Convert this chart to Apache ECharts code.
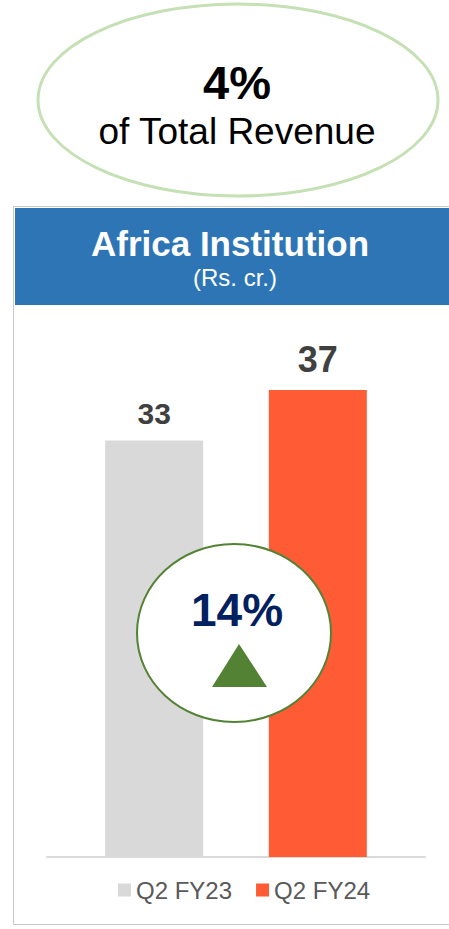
<!DOCTYPE html>
<html>
<head>
<meta charset="utf-8">
<script src="https://cdn.jsdelivr.net/npm/echarts@6/dist/echarts.min.js"></script>
<style>
  html, body { margin: 0; padding: 0; background: #fff; overflow: hidden; }
  #chart { width: 449px; height: 929px; }
</style>
</head>
<body>
<div id="chart"></div>
<script>
const categories = ['Africa Institution']
const seriesNames = ['Q2 FY23', 'Q2 FY24']
const q2fy23 = [33]
const q2fy24 = [37]
const shareText = '4%'
const shareLabel = 'of Total Revenue'
const growthText = '14%'

const font = '"Liberation Sans", Arial, sans-serif'
const chart = echarts.init(document.getElementById('chart'), null, { renderer: 'svg' })

chart.setOption({
  animation: false,
  textStyle: { fontFamily: font },
  grid: { left: 47, right: 24, top: 352, bottom: 72 },
  xAxis: {
    type: 'category',
    data: categories,
    axisLine: { lineStyle: { color: '#d9d9d9', width: 2 } },
    axisTick: { show: false },
    axisLabel: { show: false }
  },
  yAxis: { type: 'value', min: 0, max: 40, show: false, splitLine: { show: false } },
  legend: {
    data: seriesNames,
    top: 873,
    left: 113,
    icon: 'rect',
    itemWidth: 13,
    itemHeight: 13,
    itemGap: 24,
    textStyle: { fontSize: 24, color: '#595959', fontFamily: font }
  },
  graphic: [
    // outer frame, right side runs off the page
    { type: 'rect', z: 0, shape: { x: 13.5, y: 206.5, width: 500, height: 718 },
      style: { fill: 'none', stroke: '#c9c9c9', lineWidth: 1 } },
    // header band
    { type: 'rect', z: 1, shape: { x: 15, y: 208, width: 434, height: 97 },
      style: { fill: '#2e75b6' } },
    { type: 'text', z: 2, x: 230, y: 243,
      style: { text: categories[0], fill: '#fff', font: 'bold 35px ' + font, textAlign: 'center', textVerticalAlign: 'middle' } },
    { type: 'text', z: 2, x: 235, y: 277,
      style: { text: '(Rs. cr.)', fill: '#fff', font: '24px ' + font, textAlign: 'center', textVerticalAlign: 'middle' } },
    // share ellipse
    { type: 'ellipse', z: 1, shape: { cx: 238, cy: 100, rx: 200, ry: 96 },
      style: { fill: '#fff', stroke: '#c5e0b4', lineWidth: 3 } },
    { type: 'text', z: 2, x: 237, y: 82,
      style: { text: shareText, fill: '#000', font: 'bold 47px ' + font, textAlign: 'center', textVerticalAlign: 'middle' } },
    { type: 'text', z: 2, x: 237, y: 131,
      style: { text: shareLabel, fill: '#000', font: '37px ' + font, textAlign: 'center', textVerticalAlign: 'middle' } },
    // growth badge
    { type: 'ellipse', z: 100, shape: { cx: 234, cy: 633, rx: 97, ry: 89 },
      style: { fill: '#fff', stroke: '#548235', lineWidth: 2 } },
    { type: 'text', z: 101, x: 237, y: 610,
      style: { text: growthText, fill: '#002060', font: 'bold 46px ' + font, textAlign: 'center', textVerticalAlign: 'middle' } },
    { type: 'polygon', z: 101, shape: { points: [[239, 644], [212, 687], [267, 687]] },
      style: { fill: '#548235' } }
  ],
  series: [
    {
      name: seriesNames[0],
      type: 'bar',
      data: q2fy23,
      barWidth: 98,
      barGap: '67%',
      itemStyle: { color: '#d9d9d9' },
      label: { show: true, position: 'top', distance: 12, fontSize: 30, fontWeight: 'bold', color: '#404040', fontFamily: font }
    },
    {
      name: seriesNames[1],
      type: 'bar',
      data: q2fy24,
      barWidth: 98,
      barGap: '67%',
      itemStyle: { color: '#ff5c35' },
      label: { show: true, position: 'top', distance: 12, fontSize: 36, fontWeight: 'bold', color: '#404040', fontFamily: font }
    }
  ]
})
</script>
</body>
</html>
